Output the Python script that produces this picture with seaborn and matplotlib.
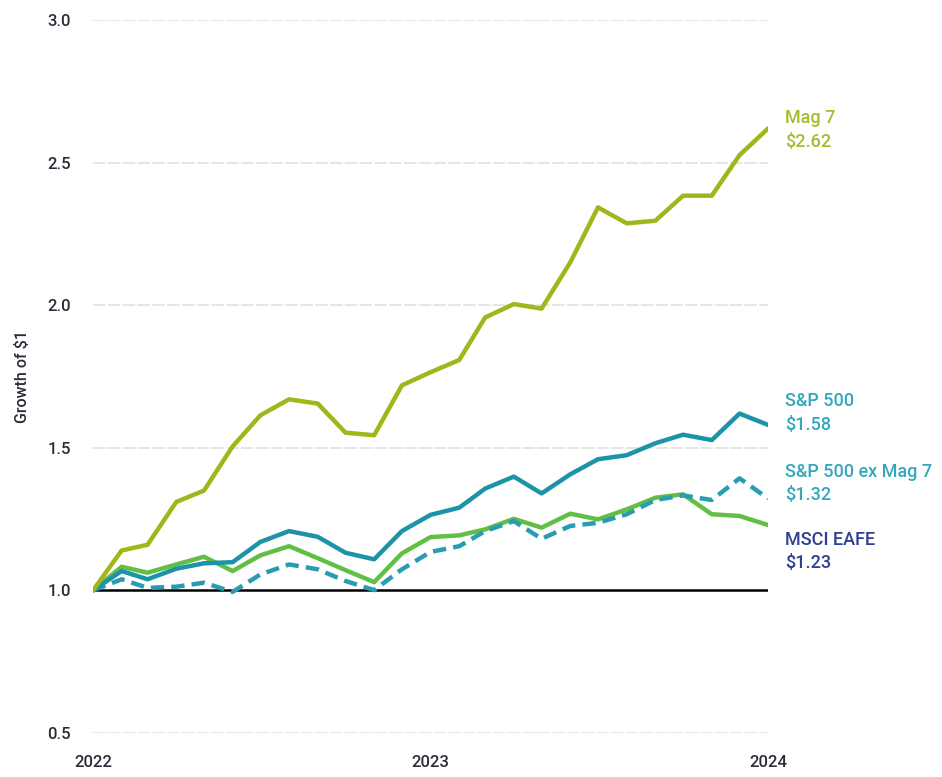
import matplotlib
matplotlib.use("Agg")
import matplotlib.pyplot as plt
import pandas as pd
import seaborn as sns

# monthly growth of $1, Jan 2022 - Jan 2024
months = pd.date_range("2022-01-01", "2024-01-01", freq="MS")
mag7 = [1.00, 1.14, 1.16, 1.31, 1.35, 1.505, 1.614, 1.67, 1.655, 1.553, 1.544, 1.719, 1.765,
        1.808, 1.957, 2.004, 1.988, 2.15, 2.343, 2.287, 2.296, 2.384, 2.384, 2.526, 2.62]
sp500 = [1.00, 1.068, 1.039, 1.076, 1.095, 1.099, 1.17, 1.208, 1.188, 1.132, 1.109, 1.208, 1.265,
         1.29, 1.357, 1.399, 1.34, 1.407, 1.46, 1.474, 1.516, 1.546, 1.527, 1.62, 1.58]
sp500_ex = [1.00, 1.039, 1.009, 1.013, 1.027, 0.995, 1.056, 1.091, 1.074, 1.033, 1.001, 1.074, 1.135,
            1.155, 1.208, 1.243, 1.181, 1.226, 1.237, 1.267, 1.317, 1.333, 1.317, 1.393, 1.322]
eafe = [1.00, 1.083, 1.062, 1.091, 1.118, 1.068, 1.123, 1.155, 1.113, 1.071, 1.029, 1.13, 1.187,
        1.193, 1.214, 1.251, 1.22, 1.269, 1.249, 1.284, 1.325, 1.337, 1.267, 1.261, 1.229]

names = ["Mag 7", "S&P 500", "S&P 500 ex Mag 7", "MSCI EAFE"]
finals = ["$2.62", "$1.58", "$1.32", "$1.23"]
year_ticks = ["2022", "2023", "2024"]

df = pd.DataFrame({"date": months, "Mag 7": mag7, "S&P 500": sp500,
                   "S&P 500 ex Mag 7": sp500_ex, "MSCI EAFE": eafe})
long = df.melt(id_vars="date", var_name="series", value_name="value")

sns.set_style("white")
plt.rcParams["font.family"] = ["Roboto", "DejaVu Sans"]

line_colors = {"Mag 7": "#a2b51b", "S&P 500": "#1c93a6",
               "S&P 500 ex Mag 7": "#2a9cb2", "MSCI EAFE": "#62bf45"}
label_colors = {"Mag 7": "#a9bb2c", "S&P 500": "#35a7bd",
                "S&P 500 ex Mag 7": "#35a7bd", "MSCI EAFE": "#2f3f93"}
dashes = {"Mag 7": "", "S&P 500": "", "S&P 500 ex Mag 7": (3, 1.6), "MSCI EAFE": ""}

fig = plt.figure(figsize=(9.42, 7.77), dpi=100)
ax = fig.add_axes([0.0987, 0.0566, 0.7168, 0.9177])

for y in [0.5, 1.5, 2.0, 2.5, 3.0]:
    ax.axhline(y, color="#e3e3e3", lw=1.3, ls=(0, (7, 1.2)), zorder=0)
ax.axhline(1.0, color="black", lw=1.8, zorder=1)

sns.lineplot(data=long, x="date", y="value", hue="series", style="series",
             palette=line_colors, dashes=dashes, hue_order=names[::-1],
             linewidth=3.2, legend=False, ax=ax, zorder=3)

ax.set_xlim(months[0], months[-1])
ax.set_ylim(0.5, 3.0)
ax.set_yticks([0.5, 1.0, 1.5, 2.0, 2.5, 3.0])
ax.set_yticklabels(["0.5", "1.0", "1.5", "2.0", "2.5", "3.0"])
ax.set_xticks(pd.to_datetime(["2022-01-01", "2023-01-01", "2024-01-01"]))
ax.set_xticklabels(year_ticks)
for t in ax.get_yticklabels() + ax.get_xticklabels():
    t.set_fontsize(12)
    t.set_color("#2b2b3b")
    t.set_fontweight("medium")
ax.tick_params(axis="y", length=0, pad=16)
ax.tick_params(axis="x", length=0, pad=16)
ax.set_xlabel("")
ax.set_ylabel("Growth of $1", fontsize=11.5, color="#2b2b3b", fontweight="medium", labelpad=12)
for s in ax.spines.values():
    s.set_visible(False)

# end labels
label_y = {"Mag 7": 2.614, "S&P 500": 1.621, "S&P 500 ex Mag 7": 1.375, "MSCI EAFE": 1.137}
x_lab = months[-1] + pd.Timedelta(days=18)
for name, fin in zip(names, finals):
    ax.text(x_lab, label_y[name], name + "\n" + fin, color=label_colors[name],
            fontsize=13, fontweight="medium", va="center", ha="left",
            linespacing=1.4, clip_on=False)

fig.savefig("out.png", dpi=100)
